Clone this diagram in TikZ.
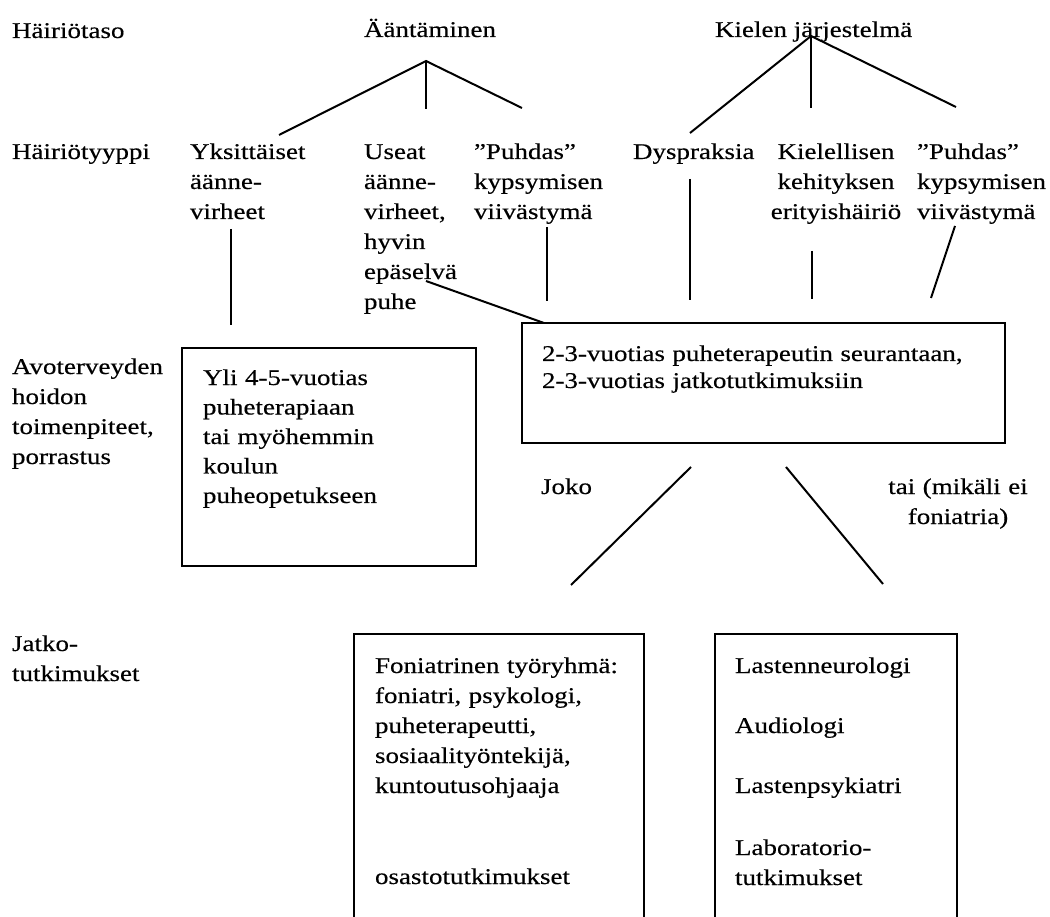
\documentclass[tikz,border=0pt]{standalone}
\usepackage{fontspec}
\setmainfont{Liberation Serif}[FakeStretch=1.2,FakeBold=0.4]
\begin{document}
\begin{tikzpicture}[x=1pt,y=-1pt,
  lbl/.style={anchor=base west, inner sep=0pt, outer sep=0pt, font=\fontsize{22.5}{30}\selectfont},
  multi/.style={anchor=base west, inner sep=0pt, outer sep=0pt, font=\fontsize{22.5}{30}\selectfont, align=left, text width=#1},
  cmulti/.style={anchor=base, inner sep=0pt, outer sep=0pt, font=\fontsize{22.5}{30}\selectfont, align=center, text width=#1},
  boxnode/.style={draw=black, line width=1.8pt, anchor=north west, inner sep=0pt, outer sep=0pt},
  slant/.style={draw=black, line width=2pt},
  vline/.style={draw=black, line width=1.5pt}]
\useasboundingbox (0,0) rectangle (1050,917);
\fill[white] (0,0) rectangle (1050,917);
\clip (0,0) rectangle (1050,917);
% row labels
\node[lbl] (taso) at (12,38) {Häiriötaso};
\node[lbl] (typpi) at (12,159) {Häiriötyyppi};
\node[multi=170pt] (avo) at (12,374) {Avoterveyden\\hoidon\\toimenpiteet,\\porrastus};
\node[multi=170pt] (jatko) at (12,651) {Jatko-\\tutkimukset};
% level 1
\node[lbl] (aant) at (364,37) {Ääntäminen};
\node[lbl] (kielen) at (715,37) {Kielen järjestelmä};
% level 2
\node[multi=140pt] (yks) at (190,159) {Yksittäiset\\äänne-\\virheet};
\node[multi=110pt] (useat) at (364,159) {Useat\\äänne-\\virheet,\\hyvin\\epäselvä\\puhe};
\node[multi=150pt] (pa) at (474,159) {”Puhdas”\\kypsymisen\\viivästymä};
\node[lbl] (dys) at (633,159) {Dyspraksia};
\node[cmulti=160pt] (kiel) at (836,159) {Kielellisen\\kehityksen\\erityishäiriö};
\node[multi=140pt] (pb) at (917,159) {”Puhdas”\\kypsymisen\\viivästymä};
% boxes
\node[boxnode, minimum width=294pt, minimum height=218pt] (b1) at (182,348) {};
\node[multi=260pt, font=\fontsize{22.5}{29.5}\selectfont] (b1t) at (203,385) {Yli 4-5-vuotias\\puheterapiaan\\tai myöhemmin\\koulun\\puheopetukseen};
\node[boxnode, minimum width=483pt, minimum height=120pt] (b2) at (522,323) {};
\node[multi=460pt, font=\fontsize{22.5}{27}\selectfont] (b2t) at (542,361) {2-3-vuotias puheterapeutin seurantaan,\\2-3-vuotias jatkotutkimuksiin};
\node[lbl] (joko) at (541,494) {Joko};
\node[cmulti=180pt] (tai) at (958,494) {tai (mikäli ei\\foniatria)};
\node[boxnode, minimum width=290pt, minimum height=330pt] (b3) at (354,634) {};
\node[multi=270pt] (b3t) at (375,673) {Foniatrinen työryhmä:\\foniatri, psykologi,\\puheterapeutti,\\sosiaalityöntekijä,\\kuntoutusohjaaja};
\node[lbl] (b3s) at (375,884) {osastotutkimukset};
\node[boxnode, minimum width=242pt, minimum height=330pt] (b4) at (715,634) {};
\node[lbl] (n1) at (735,673) {Lastenneurologi};
\node[lbl] (n2) at (735,733) {Audiologi};
\node[lbl] (n3) at (735,793) {Lastenpsykiatri};
\node[multi=200pt] (n4) at (735,855) {Laboratorio-\\tutkimukset};
% connector end points
\coordinate (A) at (426,61);
\coordinate (A1) at (279,135);
\coordinate (A2) at (426,109);
\coordinate (A3) at (522,108);
\coordinate (K) at (811,36);
\coordinate (K1) at (690,133);
\coordinate (K2) at (811,108);
\coordinate (K3) at (956,107);
\coordinate (Y1) at (231,229);
\coordinate (Y2) at (231,325);
\coordinate (U1) at (426,281);
\coordinate (U2) at (544,323);
\coordinate (P1) at (547,227);
\coordinate (P2) at (547,301);
\coordinate (D1) at (690,179);
\coordinate (D2) at (690,300);
\coordinate (E1) at (812,251);
\coordinate (E2) at (812,299);
\coordinate (Q1) at (955,226);
\coordinate (Q2) at (931,298);
\coordinate (J1) at (691,467);
\coordinate (J2) at (571,585);
\coordinate (T1) at (786,467);
\coordinate (T2) at (883,584);
% connectors
\draw[slant] (A1) -- (A) -- (A3);
\draw[vline] (A) -- (A2);
\draw[slant] (K1) -- (K) -- (K3);
\draw[vline] (K) -- (K2);
\draw[vline] (Y1) -- (Y2);
\draw[slant] (U1) -- (U2);
\draw[vline] (P1) -- (P2);
\draw[vline] (D1) -- (D2);
\draw[vline] (E1) -- (E2);
\draw[slant] (Q1) -- (Q2);
\draw[slant] (J1) -- (J2);
\draw[slant] (T1) -- (T2);
\end{tikzpicture}
\end{document}
